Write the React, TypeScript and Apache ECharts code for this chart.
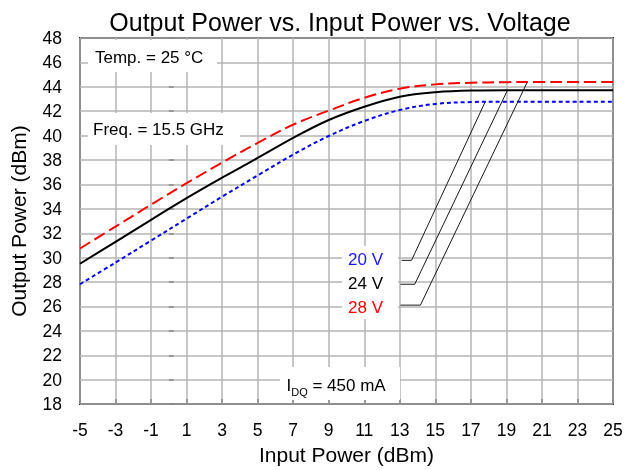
import React, { useEffect, useRef } from "react";
import * as echarts from "echarts";

// Input power (dBm) sample points
const inputPower = [-5, -3, -1, 1, 3, 5, 7, 9, 11, 13, 15, 17, 19, 21, 23, 25];
// Output power (dBm) per drain voltage
const out28V = [30.75, 32.55, 34.35, 36.1, 37.8, 39.4, 40.9, 42.05, 43.1, 43.85, 44.2, 44.33, 44.38, 44.4, 44.4, 44.4];
const out24V = [29.5, 31.3, 33.1, 34.87, 36.55, 38.17, 39.82, 41.28, 42.37, 43.19, 43.56, 43.7, 43.72, 43.72, 43.72, 43.72];
const out20V = [27.82, 29.6, 31.4, 33.2, 35.0, 36.74, 38.45, 39.97, 41.2, 42.1, 42.6, 42.75, 42.78, 42.78, 42.78, 42.78];

// Axis ranges
const xMin = -5;
const xMax = 25;
const xStep = 2;
const yMin = 18;
const yMax = 48;
const yStep = 2;

// Callout leader lines (data units): [x, y] points from label to curve
const leader20V = [[13.1, 29.78], [13.66, 29.78], [17.81, 42.78]];
const leader24V = [[13.04, 27.82], [13.84, 27.82], [19.06, 43.72]];
const leader28V = [[13.04, 26.11], [14.16, 26.11], [20.18, 44.4]];

const voltageLabels = ["20 V", "24 V", "28 V"];
const titleText = "Output Power vs. Input Power vs. Voltage";
const xName = "Input Power (dBm)";
const yName = "Output Power (dBm)";

const FONT = '"Liberation Sans", Arial, Helvetica, sans-serif';

export default function App() {
  const ref = useRef<HTMLDivElement>(null);

  useEffect(() => {
    const chart = echarts.init(ref.current as HTMLDivElement, null, { renderer: "svg" });

    const mk = (ys: number[]) => inputPower.map((x, i) => [x, ys[i]]);
    const leaderSeries = (data: number[][]) => ({
      type: "line",
      data,
      showSymbol: false,
      silent: true,
      z: 3,
      lineStyle: { color: "#1a1a1a", width: 1 },
    });

    chart.setOption({
      animation: false,
      title: {
        text: titleText,
        left: 335,
        top: 4,
        textAlign: "center",
        textStyle: { fontFamily: FONT, fontSize: 25, fontWeight: "normal", color: "#000" },
      },
      grid: {
        left: 76,
        right: 13,
        top: 38,
        bottom: 64,
        show: true,
        borderColor: "#222",
        borderWidth: 2,
        backgroundColor: "transparent",
      },
      xAxis: {
        type: "value",
        min: xMin,
        max: xMax,
        interval: xStep,
        name: xName,
        nameLocation: "middle",
        nameGap: 39,
        nameTextStyle: { fontFamily: FONT, fontSize: 21, color: "#000" },
        axisLine: { show: false },
        axisTick: { show: true, inside: true, length: 5, lineStyle: { color: "#888", width: 1.5 } },
        axisLabel: { fontFamily: FONT, fontSize: 17.5, color: "#000", margin: 17 },
        splitLine: { show: true, lineStyle: { color: "#b4b4b4", width: 1.5 } },
      },
      yAxis: {
        type: "value",
        min: yMin,
        max: yMax,
        interval: yStep,
        name: yName,
        nameLocation: "middle",
        nameGap: 51,
        nameRotate: 90,
        nameTextStyle: { fontFamily: FONT, fontSize: 21, color: "#000" },
        axisLine: { show: false },
        axisTick: { show: true, inside: true, length: 5, lineStyle: { color: "#888", width: 1.5 } },
        axisLabel: { fontFamily: FONT, fontSize: 17.5, color: "#000", margin: 18 },
        splitLine: { show: true, lineStyle: { color: "#b4b4b4", width: 1.5 } },
      },
      graphic: [
        { type: "rect", z: 1, shape: { x: 88, y: 40, width: 129, height: 32 }, style: { fill: "#fff" } },
        {
          type: "text", z: 5, x: 95, y: 57,
          style: { text: "Temp. = 25 °C", fontFamily: FONT, fontSize: 17, fill: "#000", align: "left", verticalAlign: "middle" },
        },
        { type: "rect", z: 1, shape: { x: 88, y: 113, width: 152, height: 32 }, style: { fill: "#fff" } },
        {
          type: "text", z: 5, x: 93, y: 129.5,
          style: { text: "Freq. = 15.5 GHz", fontFamily: FONT, fontSize: 17, fill: "#000", align: "left", verticalAlign: "middle" },
        },
        { type: "rect", z: 1, shape: { x: 280, y: 367, width: 120, height: 33 }, style: { fill: "#fff" } },
        {
          type: "text", z: 5, x: 286.5, y: 385,
          style: {
            text: "{m|I}{s|DQ}{m| = 450 mA}",
            fontFamily: FONT,
            fill: "#000",
            align: "left",
            verticalAlign: "middle",
            rich: {
              m: { fontFamily: FONT, fontSize: 17, lineHeight: 24, fill: "#000", verticalAlign: "middle" },
              s: { fontFamily: FONT, fontSize: 11, fill: "#000", verticalAlign: "bottom" },
            },
          },
        },
        { type: "rect", z: 1, shape: { x: 342, y: 246, width: 56, height: 73 }, style: { fill: "#fff" } },
        {
          type: "text", z: 5, x: 383, y: 259.5,
          style: { text: voltageLabels[0], fontFamily: FONT, fontSize: 17, fill: "#1a1aff", align: "right", verticalAlign: "middle" },
        },
        {
          type: "text", z: 5, x: 383, y: 283,
          style: { text: voltageLabels[1], fontFamily: FONT, fontSize: 17, fill: "#000", align: "right", verticalAlign: "middle" },
        },
        {
          type: "text", z: 5, x: 383, y: 307,
          style: { text: voltageLabels[2], fontFamily: FONT, fontSize: 17, fill: "#ff0000", align: "right", verticalAlign: "middle" },
        },
      ],
      series: [
        {
          name: "28 V",
          type: "line",
          data: mk(out28V),
          smooth: 0.35,
          showSymbol: false,
          z: 4,
          lineStyle: { color: "#ff0000", width: 2, type: [12, 5] },
        },
        {
          name: "24 V",
          type: "line",
          data: mk(out24V),
          smooth: 0.35,
          showSymbol: false,
          z: 4,
          lineStyle: { color: "#000000", width: 2, type: "solid" },
        },
        {
          name: "20 V",
          type: "line",
          data: mk(out20V),
          smooth: 0.35,
          showSymbol: false,
          z: 4,
          lineStyle: { color: "#0000ff", width: 2, type: [4, 3] },
        },
        leaderSeries(leader20V),
        leaderSeries(leader24V),
        leaderSeries(leader28V),
      ],
    });

    return () => chart.dispose();
  }, []);

  return (
    <div
      ref={ref}
      style={{ position: "fixed", left: 0, top: 0, width: 626, height: 470 }}
    />
  );
}
